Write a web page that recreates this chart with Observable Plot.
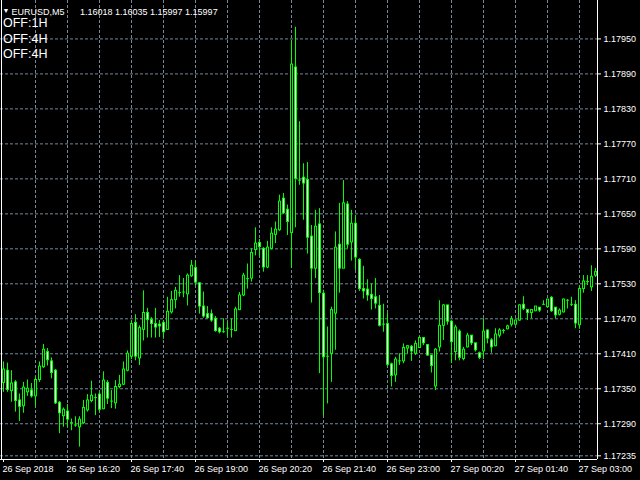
<!DOCTYPE html>
<html><head><meta charset="utf-8">
<script src="https://cdn.jsdelivr.net/npm/d3@7"></script>
<script src="https://cdn.jsdelivr.net/npm/@observablehq/plot@0.6"></script>
<style>html,body{margin:0;padding:0;background:#000;overflow:hidden}</style>
</head><body><div id="chart"></div>
<script>
const symbol = "EURUSD,M5";
const quote = "1.16018 1.16035 1.15997 1.15997";
const indicatorLines = ["OFF:1H", "OFF:4H", "OFF:4H"];

const opens = [
1.17360,1.17381,1.17346,1.17361,1.17330,1.17320,1.17344,1.17347,1.17337,1.17365,
1.17387,1.17413,1.17397,1.17381,1.17326,1.17303,1.17311,1.17291,1.17287,1.17284,
1.17291,1.17313,1.17329,1.17334,1.17340,1.17315,1.17360,1.17328,1.17325,1.17353,
1.17357,1.17381,1.17405,1.17463,1.17402,1.17451,1.17480,1.17468,1.17461,1.17460,
1.17463,1.17451,1.17481,1.17502,1.17514,1.17515,1.17512,1.17543,1.17557,1.17531,
1.17491,1.17478,1.17478,1.17470,1.17453,1.17447,1.17453,1.17451,1.17449,1.17485,
1.17510,1.17538,1.17539,1.17588,1.17600,1.17590,1.17558,1.17590,1.17614,1.17622,
1.17676,1.17657,1.17617,1.17901,1.17707,1.17712,1.17708,1.17611,1.17556,1.17632,
1.17513,1.17405,1.17410,1.17479,1.17597,1.17556,1.17666,1.17601,1.17633,1.17571,
1.17521,1.17520,1.17511,1.17507,1.17492,1.17460,1.17461,1.17392,1.17373,1.17397,
1.17397,1.17419,1.17422,1.17410,1.17420,1.17437,1.17425,1.17407,1.17354,1.17421,
1.17458,1.17493,1.17465,1.17413,1.17448,1.17401,1.17421,1.17441,1.17428,1.17411,
1.17414,1.17450,1.17433,1.17423,1.17441,1.17449,1.17452,1.17460,1.17460,1.17467,
1.17494,1.17485,1.17480,1.17483,1.17489,1.17494,1.17490,1.17506,1.17489,1.17477,
1.17481,1.17501,1.17494,1.17494,1.17459,1.17521,1.17533,1.17524,1.17544];

const highs = [
1.17396,1.17394,1.17381,1.17364,1.17341,1.17361,1.17365,1.17359,1.17370,1.17396,
1.17426,1.17419,1.17403,1.17383,1.17328,1.17317,1.17323,1.17298,1.17302,1.17302,
1.17330,1.17340,1.17363,1.17341,1.17344,1.17379,1.17364,1.17347,1.17364,1.17373,
1.17396,1.17415,1.17467,1.17477,1.17458,1.17518,1.17488,1.17472,1.17488,1.17467,
1.17467,1.17507,1.17517,1.17524,1.17544,1.17539,1.17547,1.17570,1.17570,1.17532,
1.17516,1.17491,1.17485,1.17474,1.17455,1.17470,1.17464,1.17470,1.17490,1.17515,
1.17548,1.17564,1.17590,1.17626,1.17606,1.17592,1.17603,1.17626,1.17636,1.17682,
1.17685,1.17665,1.17947,1.17970,1.17808,1.17736,1.17738,1.17630,1.17656,1.17659,
1.17519,1.17456,1.17490,1.17619,1.17668,1.17707,1.17671,1.17656,1.17647,1.17573,
1.17560,1.17537,1.17530,1.17539,1.17510,1.17495,1.17479,1.17394,1.17404,1.17410,
1.17427,1.17424,1.17424,1.17432,1.17440,1.17438,1.17426,1.17407,1.17419,1.17501,
1.17494,1.17493,1.17467,1.17459,1.17451,1.17421,1.17445,1.17441,1.17428,1.17413,
1.17470,1.17451,1.17436,1.17453,1.17453,1.17452,1.17459,1.17474,1.17468,1.17494,
1.17508,1.17485,1.17485,1.17491,1.17489,1.17501,1.17503,1.17508,1.17489,1.17487,
1.17504,1.17503,1.17507,1.17501,1.17527,1.17544,1.17544,1.17561,1.17556];

const lows = [
1.17344,1.17344,1.17327,1.17310,1.17294,1.17308,1.17337,1.17334,1.17319,1.17361,
1.17385,1.17389,1.17367,1.17323,1.17273,1.17284,1.17284,1.17278,1.17284,1.17250,
1.17289,1.17310,1.17326,1.17304,1.17310,1.17314,1.17323,1.17316,1.17315,1.17350,
1.17356,1.17379,1.17400,1.17398,1.17390,1.17432,1.17437,1.17437,1.17437,1.17438,
1.17435,1.17450,1.17478,1.17487,1.17507,1.17506,1.17492,1.17541,1.17527,1.17478,
1.17471,1.17470,1.17464,1.17447,1.17444,1.17445,1.17439,1.17437,1.17448,1.17484,
1.17508,1.17521,1.17533,1.17578,1.17576,1.17550,1.17556,1.17588,1.17599,1.17620,
1.17649,1.17613,1.17556,1.17626,1.17699,1.17639,1.17581,1.17497,1.17539,1.17376,
1.17304,1.17324,1.17361,1.17416,1.17514,1.17556,1.17590,1.17569,1.17553,1.17517,
1.17504,1.17500,1.17485,1.17487,1.17456,1.17447,1.17388,1.17353,1.17361,1.17390,
1.17393,1.17410,1.17397,1.17407,1.17419,1.17424,1.17406,1.17377,1.17347,1.17413,
1.17433,1.17459,1.17393,1.17398,1.17398,1.17398,1.17420,1.17424,1.17413,1.17400,
1.17400,1.17427,1.17411,1.17422,1.17437,1.17444,1.17451,1.17456,1.17459,1.17466,
1.17484,1.17467,1.17470,1.17482,1.17481,1.17493,1.17489,1.17481,1.17470,1.17475,
1.17480,1.17487,1.17491,1.17453,1.17452,1.17514,1.17527,1.17517,1.17541];

const closes = [
1.17383,1.17348,1.17359,1.17329,1.17319,1.17352,1.17350,1.17337,1.17365,1.17388,
1.17417,1.17399,1.17377,1.17325,1.17308,1.17314,1.17297,1.17291,1.17287,1.17297,
1.17317,1.17330,1.17338,1.17334,1.17314,1.17364,1.17333,1.17328,1.17353,1.17357,
1.17383,1.17410,1.17461,1.17405,1.17454,1.17480,1.17468,1.17461,1.17455,1.17457,
1.17447,1.17482,1.17502,1.17518,1.17514,1.17515,1.17544,1.17561,1.17532,1.17491,
1.17474,1.17471,1.17467,1.17449,1.17447,1.17447,1.17453,1.17451,1.17486,1.17510,
1.17544,1.17538,1.17583,1.17599,1.17593,1.17558,1.17592,1.17616,1.17623,1.17671,
1.17651,1.17636,1.17906,1.17710,1.17707,1.17702,1.17609,1.17556,1.17628,1.17514,
1.17404,1.17405,1.17485,1.17592,1.17556,1.17668,1.17597,1.17633,1.17575,1.17521,
1.17517,1.17510,1.17504,1.17496,1.17458,1.17460,1.17391,1.17372,1.17400,1.17397,
1.17420,1.17423,1.17414,1.17427,1.17437,1.17428,1.17407,1.17389,1.17417,1.17458,
1.17493,1.17465,1.17430,1.17455,1.17403,1.17417,1.17441,1.17428,1.17416,1.17403,
1.17448,1.17436,1.17421,1.17443,1.17450,1.17449,1.17457,1.17469,1.17467,1.17493,
1.17487,1.17480,1.17485,1.17491,1.17484,1.17494,1.17503,1.17483,1.17476,1.17484,
1.17503,1.17501,1.17494,1.17462,1.17521,1.17534,1.17533,1.17542,1.17550];

const xTickBars = [0, 16, 32, 48, 64, 80, 96, 112, 128, 144];
const xTickLabels = ["26 Sep 2018", "26 Sep 16:20", "26 Sep 17:40", "26 Sep 19:00", "26 Sep 20:20",
  "26 Sep 21:40", "26 Sep 23:00", "27 Sep 00:20", "27 Sep 01:40", "27 Sep 03:00"];
const yTicks = [1.17235, 1.17290, 1.17350, 1.17410, 1.17470, 1.17530, 1.17590,
  1.17650, 1.17710, 1.17770, 1.17830, 1.17890, 1.17950];

const bars = opens.map((o, i) => ({i, open: o, high: highs[i], low: lows[i], close: closes[i]}));
const xTicks = xTickBars.map((b, k) => ({i: b, label: xTickLabels[k]}));
const gridBars = d3.range(8, bars.length, 8);
const xDomain = [-0.75, bars.length - 0.5];
const yDomain = [1.172287, 1.180159];

const lime = "#00ff00";
const gridColor = "#778899";
const font = "'Liberation Sans', Arial, sans-serif";

const chart = Plot.plot({
  width: 640, height: 480,
  marginLeft: 0, marginRight: 43, marginTop: 0, marginBottom: 21,
  style: {background: "black", color: "white", fontFamily: font, fontSize: "9px"},
  x: {type: "linear", domain: xDomain, axis: "bottom", ticks: xTickBars, tickFormat: () => "", tickSize: 3, label: null},
  y: {domain: yDomain, axis: "right", ticks: yTicks, tickFormat: d3.format(".5f"), tickSize: 3, tickPadding: 3, label: null},
  marks: [
    Plot.ruleY(yTicks, {stroke: gridColor, strokeDasharray: "3,2"}),
    Plot.ruleX(gridBars, {stroke: gridColor, strokeDasharray: "3,2"}),
    Plot.ruleX(bars, {x: "i", y1: "high", y2: "low", stroke: lime}),
    Plot.ruleX(bars, {x: "i", y1: d => Math.max(d.open, d.close), y2: d => Math.min(d.open, d.close),
      stroke: lime, strokeWidth: 3, insetTop: -0.5, insetBottom: -0.5}),
    Plot.ruleX(bars.filter(d => Math.abs(d.open - d.close) > 0.00003), {x: "i",
      y1: d => Math.max(d.open, d.close), y2: d => Math.min(d.open, d.close),
      stroke: d => d.close < d.open ? "white" : "black", strokeWidth: 1, insetTop: 0.5, insetBottom: 0.5}),
    Plot.ruleX([xDomain[1]], {stroke: "white"}),
    Plot.ruleX([xDomain[0]], {stroke: "white", dx: 1}),
    Plot.ruleY([yDomain[0]], {stroke: "white"}),
    Plot.text(xTicks, {x: "i", text: "label", frameAnchor: "bottom", textAnchor: "start", lineAnchor: "middle", dx: -1, dy: 10, fill: "white"}),
    Plot.text(["\u25BC"], {text: d => d, frameAnchor: "top-left", textAnchor: "start", dx: 2, dy: 7.5, fontSize: 7, fill: "white"}),
    Plot.text([symbol], {text: d => d, frameAnchor: "top-left", textAnchor: "start", dx: 11, dy: 7.8, fill: "white"}),
    Plot.text([quote], {text: d => d, frameAnchor: "top-left", textAnchor: "start", dx: 79.5, dy: 7.8, fill: "white"}),
    Plot.text([indicatorLines.join("\n")], {text: d => d, frameAnchor: "top-left", textAnchor: "start", lineAnchor: "top",
      lineHeight: 16 / 13, dx: 2.5, dy: 16, fontSize: 12.5, fill: "white"})
  ]
});
document.getElementById("chart").appendChild(chart);
</script>
</body></html>
